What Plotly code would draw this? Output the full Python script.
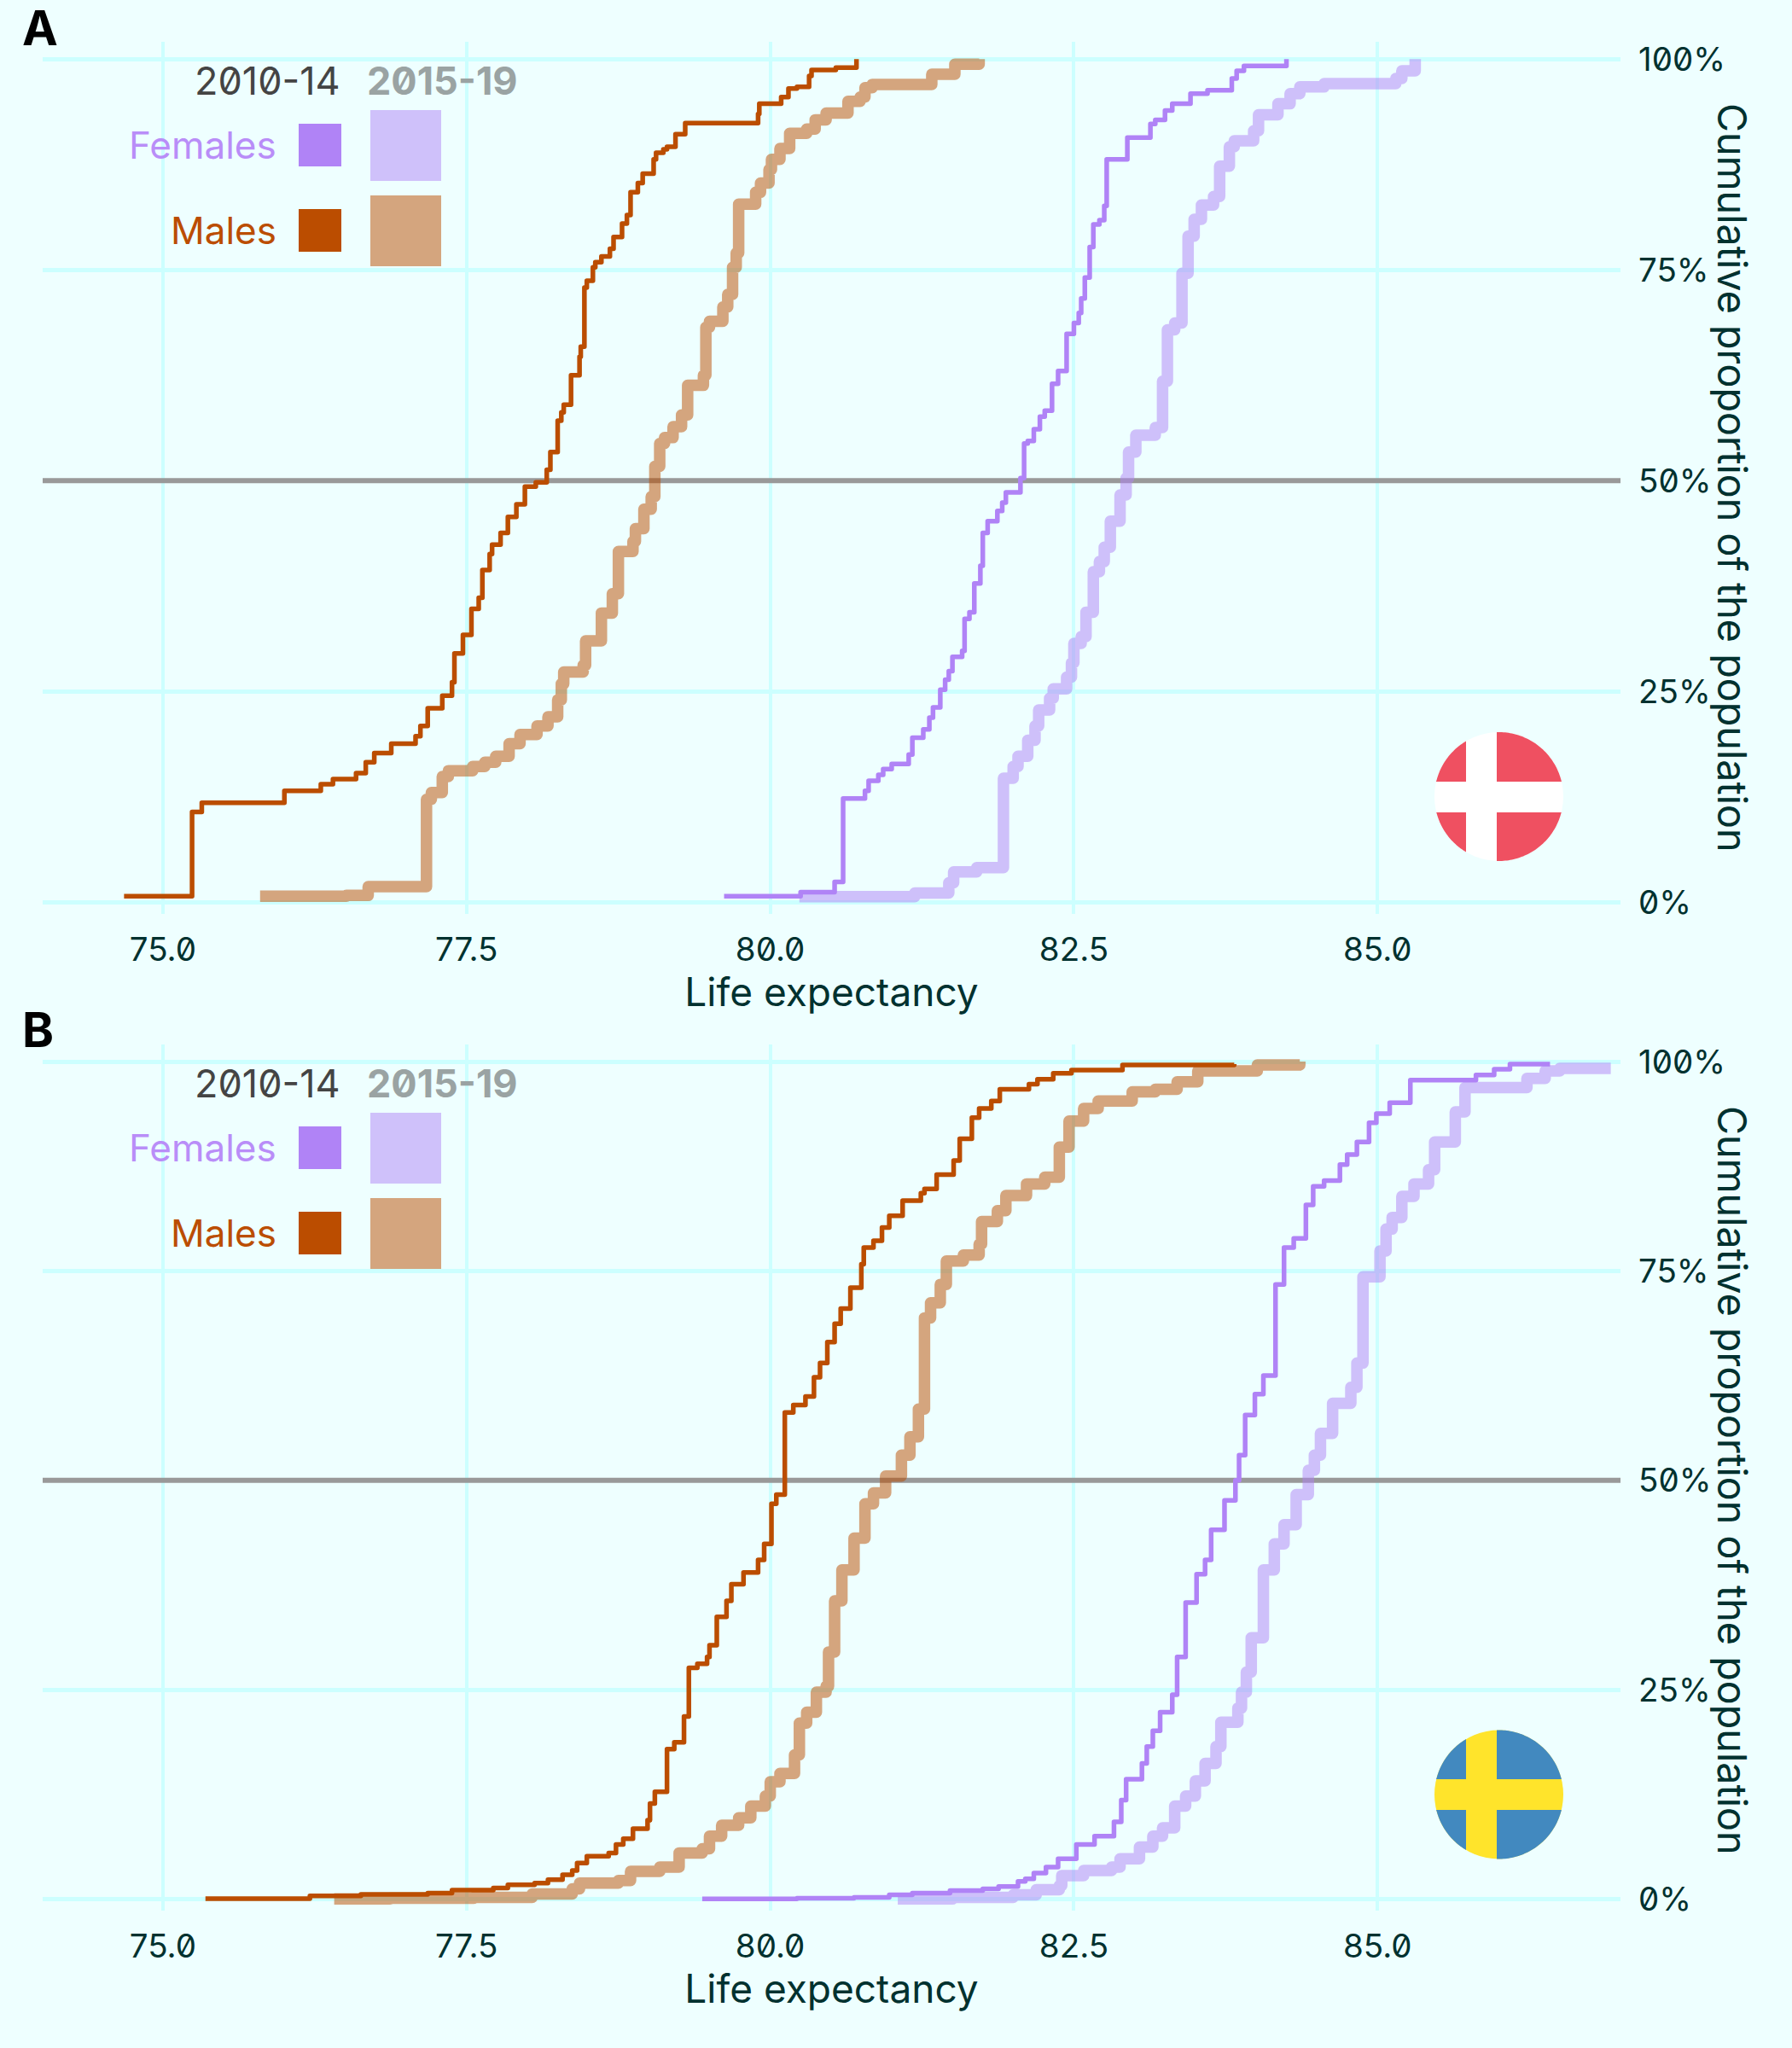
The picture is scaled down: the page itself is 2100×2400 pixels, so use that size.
import numpy as np
import plotly.graph_objects as go

# Cumulative proportion (%) against life expectancy
a_male_2010 = [(74.68,0.7),(75.24,10.7),(75.32,11.8),(76.00,13.2),(76.30,14.0),(76.40,14.6),(76.59,15.3),(76.67,16.6),(76.74,17.7),(76.88,18.8),(77.08,19.7),(77.12,20.9),(77.18,23.0),(77.30,24.5),(77.38,26.1),(77.40,29.5),(77.47,31.7),(77.54,34.8),(77.60,36.1),(77.63,39.4),(77.69,41.3),(77.71,42.4),(77.78,43.8),(77.84,45.7),(77.91,47.2),(77.98,49.3),(78.07,49.8),(78.16,51.3),(78.19,53.4),(78.25,57.1),(78.28,58.1),(78.30,59.0),(78.36,62.5),(78.43,64.7),(78.44,65.9),(78.47,72.9),(78.49,73.7),(78.54,75.3),(78.56,75.9),(78.61,76.6),(78.68,77.5),(78.71,78.9),(78.78,80.5),(78.82,81.5),(78.85,84.2),(78.91,85.3),(78.95,86.4),(79.04,88.1),(79.06,88.9),(79.12,89.3),(79.15,89.6),(79.22,91.1),(79.30,92.4),(79.90,93.5),(79.91,94.7),(80.09,95.5),(80.15,96.5),(80.22,96.7),(80.32,98.0),(80.34,98.7),(80.54,99.0),(80.71,100)]
a_male_2015 = [(75.80,0.7),(76.51,0.8),(76.69,1.85),(77.17,12.2),(77.21,13.0),(77.30,14.9),(77.35,15.6),(77.55,16.1),(77.65,16.6),(77.74,17.3),(77.85,18.8),(77.94,19.9),(78.08,20.9),(78.17,22.0),(78.25,24.0),(78.28,25.9),(78.30,27.3),(78.46,28.1),(78.48,31.0),(78.61,34.3),(78.70,36.6),(78.75,41.6),(78.87,42.8),(78.89,44.3),(78.96,46.6),(79.02,48.1),(79.05,51.7),(79.09,54.4),(79.13,55.1),(79.20,56.4),(79.27,57.8),(79.32,61.3),(79.45,62.5),(79.47,68.2),(79.50,68.9),(79.61,70.6),(79.65,72.1),(79.69,75.3),(79.72,77.0),(79.74,82.8),(79.88,84.2),(79.92,85.3),(79.99,86.9),(80.01,88.1),(80.08,89.4),(80.16,91.2),(80.30,91.7),(80.37,92.8),(80.46,93.6),(80.64,95.0),(80.74,95.5),(80.78,96.6),(80.84,97.0),(81.33,98.2),(81.52,99.4),(81.72,100)]
a_female_2010 = [(79.62,0.7),(80.25,1.2),(80.53,2.4),(80.60,12.3),(80.78,13.2),(80.81,14.4),(80.89,15.1),(80.93,15.8),(81.00,16.4),(81.14,17.5),(81.17,19.5),(81.26,20.5),(81.31,21.9),(81.34,23.1),(81.40,25.2),(81.44,26.4),(81.47,27.4),(81.50,29.1),(81.58,29.8),(81.60,33.6),(81.64,34.4),(81.68,37.8),(81.73,39.9),(81.75,43.8),(81.79,45.2),(81.87,46.4),(81.91,47.4),(81.94,48.6),(82.06,50.3),(82.09,54.4),(82.12,54.7),(82.17,56.1),(82.22,57.6),(82.26,58.3),(82.32,61.5),(82.37,63.0),(82.44,67.4),(82.50,68.7),(82.54,69.9),(82.56,71.6),(82.59,74.1),(82.63,77.7),(82.66,80.4),(82.71,80.9),(82.75,82.6),(82.77,88.1),(82.94,90.7),(83.13,92.3),(83.17,92.8),(83.25,93.9),(83.31,94.7),(83.46,95.9),(83.60,96.3),(83.80,97.7),(83.84,98.6),(83.90,99.2),(84.25,100)]
a_female_2015 = [(80.24,0.65),(81.19,1.1),(81.47,2.3),(81.51,3.6),(81.70,4.1),(81.92,14.7),(82.00,16.1),(82.04,17.3),(82.12,19.2),(82.18,20.9),(82.21,22.8),(82.30,24.2),(82.33,25.3),(82.44,26.7),(82.48,28.4),(82.50,30.7),(82.56,31.5),(82.60,34.4),(82.66,39.2),(82.71,40.4),(82.75,42.1),(82.80,45.2),(82.88,48.3),(82.93,50.3),(82.95,53.4),(83.01,55.4),(83.17,56.3),(83.23,61.8),(83.27,67.9),(83.33,68.7),(83.39,74.6),(83.44,79.0),(83.49,81.0),(83.55,82.7),(83.65,83.7),(83.70,87.3),(83.78,89.6),(83.82,90.3),(83.98,91.5),(84.02,93.4),(84.18,94.7),(84.28,95.9),(84.36,96.7),(84.56,97.1),(85.15,97.7),(85.20,98.6),(85.31,100)]

b_male_2010 = [(75.35,0.03),(76.21,0.37),(76.63,0.54),(77.18,0.7),(77.38,1.05),(77.72,1.3),(77.84,1.7),(78.06,1.9),(78.17,2.3),(78.29,2.9),(78.37,3.4),(78.41,4.3),(78.49,5.1),(78.67,5.5),(78.73,6.5),(78.79,7.2),(78.87,8.4),(78.99,9.4),(79.01,11.4),(79.05,12.8),(79.15,17.9),(79.21,18.7),(79.29,21.8),(79.33,27.6),(79.40,28.1),(79.48,28.9),(79.50,30.3),(79.56,33.7),(79.64,35.6),(79.68,37.6),(79.78,39.0),(79.90,40.5),(79.95,42.4),(80.01,47.2),(80.05,48.3),(80.12,58.1),(80.19,59.0),(80.29,60.0),(80.36,62.3),(80.41,64.0),(80.47,66.5),(80.53,68.7),(80.58,70.5),(80.66,73.0),(80.75,75.8),(80.77,77.8),(80.85,78.6),(80.92,80.2),(80.98,81.6),(81.09,83.4),(81.24,84.3),(81.27,84.8),(81.37,86.5),(81.51,88.2),(81.56,90.8),(81.66,93.3),(81.72,94.4),(81.82,95.3),(81.89,96.7),(82.13,97.3),(82.20,97.9),(82.33,98.6),(82.48,99.0),(82.90,99.6),(83.82,99.7)]
b_male_2015 = [(76.41,0.02),(76.87,0.1),(77.56,0.2),(78.04,0.6),(78.37,1.2),(78.43,1.9),(78.75,2.2),(78.85,3.3),(79.09,3.8),(79.25,5.5),(79.44,6.0),(79.50,7.5),(79.60,8.8),(79.74,9.7),(79.84,11.1),(79.96,12.3),(80.00,14.0),(80.08,15.0),(80.20,17.2),(80.24,21.0),(80.30,22.3),(80.38,24.7),(80.46,25.4),(80.48,29.5),(80.53,35.6),(80.59,39.3),(80.69,43.1),(80.78,47.2),(80.85,48.5),(80.95,50.5),(81.08,53.0),(81.15,55.2),(81.22,58.5),(81.27,69.4),(81.32,71.2),(81.40,73.4),(81.45,76.2),(81.59,76.9),(81.72,78.2),(81.74,80.9),(81.87,82.2),(81.94,84.0),(82.11,85.4),(82.26,86.2),(82.38,89.8),(82.46,92.9),(82.58,94.4),(82.70,95.3),(82.98,96.4),(83.17,96.7),(83.35,97.6),(83.52,98.9),(84.01,99.6),(84.36,100)]
b_female_2010 = [(79.44,0.0),(80.22,0.1),(80.69,0.2),(80.98,0.5),(81.17,0.7),(81.48,1.0),(81.75,1.2),(81.88,1.5),(82.04,2.1),(82.10,2.4),(82.17,3.1),(82.27,3.8),(82.37,4.8),(82.52,6.5),(82.67,7.5),(82.83,9.2),(82.89,11.8),(82.93,14.3),(83.06,16.2),(83.10,18.2),(83.15,20.1),(83.21,22.3),(83.31,24.4),(83.35,28.9),(83.42,35.4),(83.51,38.8),(83.58,40.5),(83.63,44.1),(83.74,47.6),(83.83,50.0),(83.86,53.0),(83.91,57.8),(83.99,60.3),(84.06,62.5),(84.16,73.4),(84.23,77.8),(84.31,78.9),(84.41,82.9),(84.47,85.1),(84.56,85.8),(84.69,87.7),(84.75,88.9),(84.83,90.4),(84.93,92.7),(84.99,93.8),(85.10,95.1),(85.27,97.8),(85.81,98.4),(85.96,99.1),(86.09,99.7),(86.42,99.7)]
b_female_2015 = [(81.05,0.0),(81.50,0.2),(82.00,0.5),(82.19,1.1),(82.38,1.6),(82.40,2.8),(82.58,3.4),(82.81,3.8),(82.88,4.8),(83.04,6.2),(83.15,7.5),(83.23,8.5),(83.33,11.1),(83.42,12.3),(83.50,14.1),(83.58,16.2),(83.67,18.2),(83.71,21.1),(83.85,22.8),(83.88,24.7),(83.92,27.1),(83.96,31.2),(84.06,39.3),(84.15,42.4),(84.23,44.7),(84.33,48.3),(84.43,51.2),(84.48,53.0),(84.53,55.6),(84.63,59.2),(84.78,61.1),(84.83,64.0),(84.88,74.3),(85.02,77.4),(85.07,80.0),(85.12,81.4),(85.20,83.9),(85.30,85.4),(85.42,87.1),(85.47,90.4),(85.64,94.0),(85.72,96.9),(86.23,98.0),(86.38,98.9),(86.50,99.2),(86.92,99.2)]

x_ticks = [75.0, 77.5, 80.0, 82.5, 85.0]
y_ticks = [0, 25, 50, 75, 100]
y_tick_labels = ["0%", "25%", "50%", "75%", "100%"]
panel_letters = ["A", "B"]
period_labels = ["2010-14", "2015-19"]
sex_labels = ["Females", "Males"]
x_title = "Life expectancy"
y_title = "Cumulative proportion of the population"

W, H = 2100, 2400
BG = "#EEFFFF"
GRID = "#CCFFFF"
INK = "#00312F"
FEMALE = "#B083F6"
MALE = "#BB4D00"
FEMALE_LIGHT = "#CFC1FA"
MALE_LIGHT = "#D4A57E"
FONT = "Inter"
THIN, THICK = 5.5, 13.5

X_RANGE = [74.01, 87.0]
Y_RANGE = [-1.39, 102.05]
PLOT_L, PLOT_R = 50, 1899
PANEL_TOP = [49, 1224]
PANEL_BOTTOM = [1071, 2239]


def px(x):
    return x / W


def py(y):
    return 1 - y / H


fig = go.Figure()

panels = [
    ("x", "y", a_male_2010, a_male_2015, a_female_2010, a_female_2015),
    ("x2", "y2", b_male_2010, b_male_2015, b_female_2010, b_female_2015),
]

for xa, ya, m1, m2, f1, f2 in panels:
    fig.add_trace(go.Scatter(x=X_RANGE, y=[50, 50], mode="lines", xaxis=xa, yaxis=ya,
                             line=dict(color="#999999", width=6), showlegend=False, hoverinfo="skip"))
    for data, colour, width, opacity in [
        (f2, FEMALE, THICK, 0.5), (m2, MALE, THICK, 0.5),
        (f1, FEMALE, THIN, 1), (m1, MALE, THIN, 1),
    ]:
        xs, ys = zip(*data)
        fig.add_trace(go.Scatter(x=xs, y=ys, mode="lines", xaxis=xa, yaxis=ya, opacity=opacity,
                                 line=dict(color=colour, width=width, shape="hv"), showlegend=False))

shapes = []
annotations = []


def rect(x0, y0, x1, y1, colour):
    shapes.append(dict(type="rect", xref="paper", yref="paper", x0=px(x0), x1=px(x1), y0=py(y0), y1=py(y1),
                       fillcolor=colour, line=dict(width=0), layer="above"))


def text(x, y, s, colour, size, anchor="left", bold=False, angle=0):
    annotations.append(dict(xref="paper", yref="paper", x=px(x), y=py(y), text=f"<b>{s}</b>" if bold else s,
                            showarrow=False, xanchor=anchor, yanchor="middle", textangle=angle,
                            font=dict(family=FONT, size=size, color=colour)))


def flag(cx, cy, r, base, cross, vband, hband):
    # Circular flag: a disc of the cross colour with the four corners laid over it
    shapes.append(dict(type="circle", xref="paper", yref="paper", x0=px(cx - r), x1=px(cx + r),
                       y0=py(cy - r), y1=py(cy + r), fillcolor=cross, line=dict(width=0), layer="above"))
    t = np.linspace(0, 2 * np.pi, 240)
    cxs, cys = cx + r * np.cos(t), cy + r * np.sin(t)
    for left in (True, False):
        for top in (True, False):
            qx = np.minimum(cxs, vband[0]) if left else np.maximum(cxs, vband[1])
            qy = np.minimum(cys, hband[0]) if top else np.maximum(cys, hband[1])
            path = "M" + "L".join(f"{px(a):.5f},{py(b):.5f}" for a, b in zip(qx, qy)) + "Z"
            shapes.append(dict(type="path", xref="paper", yref="paper", path=path, fillcolor=base,
                               line=dict(width=0), layer="above"))


for base in (0, 1175):
    text(226, 94 + base, period_labels[0], "#444444", 45)
    text(428, 94 + base, period_labels[1], "#9AA3A3", 45, bold=True)
    text(326, 170 + base, sex_labels[0], "#B98DF8", 44, anchor="right")
    text(326, 270 + base, sex_labels[1], MALE, 44, anchor="right")
    rect(350, 145 + base, 400, 195 + base, FEMALE)
    rect(350, 245 + base, 400, 295 + base, MALE)
    rect(434, 129 + base, 517, 212 + base, FEMALE_LIGHT)
    rect(434, 229 + base, 517, 312 + base, MALE_LIGHT)

text(24, 33, panel_letters[0], "#000000", 56, bold=True)
text(24, 1207, panel_letters[1], "#000000", 56, bold=True)
text(2030, 560, y_title, INK, 46.7, anchor="center", angle=90)
text(2030, 1735, y_title, INK, 46.7, anchor="center", angle=90)

flag(1756.5, 933.5, 75.5, "#EF5061", "#FFFFFF", (1718, 1754), (916, 952))
flag(1756.5, 2103, 75.5, "#4289BF", "#FFE42B", (1718, 1754), (2085, 2121))

x_axis = dict(range=X_RANGE, tickvals=x_ticks, tickformat=".1f", showgrid=True, gridcolor=GRID, gridwidth=3.8,
              zeroline=False, showline=False, ticks="", ticklabelstandoff=15, automargin=False,
              tickfont=dict(family=FONT, size=38.5, color=INK),
              title=dict(text=x_title, font=dict(family=FONT, size=46, color=INK), standoff=10))
y_axis = dict(range=Y_RANGE, tickvals=y_ticks, ticktext=y_tick_labels, showgrid=True, gridcolor=GRID, gridwidth=4.7,
              zeroline=False, showline=False, ticks="", side="right", ticklabelstandoff=20, automargin=False,
              tickfont=dict(family=FONT, size=38.5, color=INK))

fig.update_layout(
    width=W, height=H, margin=dict(l=0, r=0, t=0, b=0, autoexpand=False), showlegend=False,
    paper_bgcolor=BG, plot_bgcolor=BG, shapes=shapes, annotations=annotations,
    font=dict(family=FONT),
    xaxis=dict(domain=[px(PLOT_L), px(PLOT_R)], anchor="y", **x_axis),
    yaxis=dict(domain=[py(PANEL_BOTTOM[0]), py(PANEL_TOP[0])], anchor="x", **y_axis),
    xaxis2=dict(domain=[px(PLOT_L), px(PLOT_R)], anchor="y2", **x_axis),
    yaxis2=dict(domain=[py(PANEL_BOTTOM[1]), py(PANEL_TOP[1])], anchor="x2", **y_axis),
)

page_css = (
    "document.body.style.margin='0';"
    "document.body.style.background='%s';"
    "var s=document.createElement('style');"
    "s.textContent='.js-line{stroke-linejoin:round}svg text{font-feature-settings:\"zero\" 1}';"
    "document.head.appendChild(s);" % BG
)
fig.write_html("out.html", post_script=page_css, config={"displayModeBar": False})
